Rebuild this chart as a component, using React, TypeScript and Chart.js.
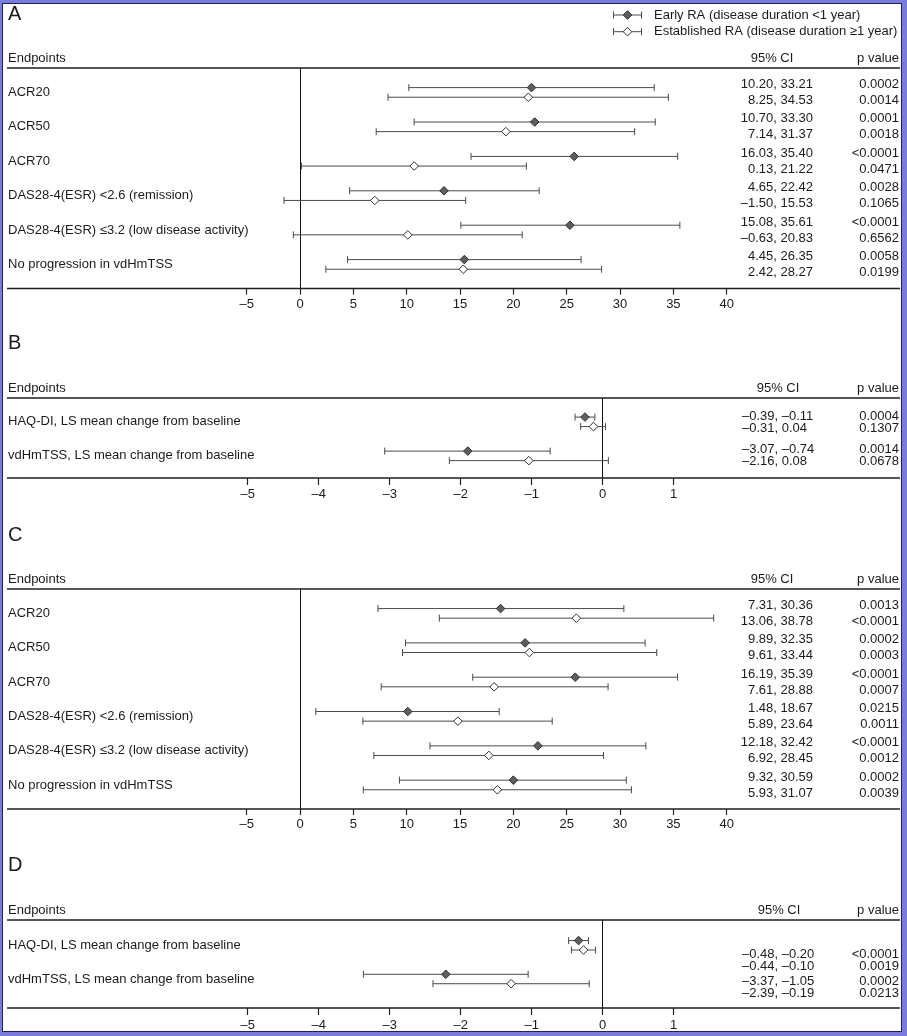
import React, { useEffect, useRef } from "react";
import { Chart, registerables } from "chart.js";

Chart.register(...registerables);

const FONT = '"Liberation Sans", Arial, Helvetica, sans-serif';
const INK = "#1b1b1b";
const WHISKER = "#4a4a4a";

// ---------------- data ----------------
const seriesNames = [
  "Early RA (disease duration <1 year)",
  "Established RA (disease duration \u22651 year)",
];

const responseEndpoints = [
  "ACR20",
  "ACR50",
  "ACR70",
  "DAS28-4(ESR) <2.6 (remission)",
  "DAS28-4(ESR) \u22643.2 (low disease activity)",
  "No progression in vdHmTSS",
];
const changeEndpoints = [
  "HAQ-DI, LS mean change from baseline",
  "vdHmTSS, LS mean change from baseline",
];

const responseTicks = [-5, 0, 5, 10, 15, 20, 25, 30, 35, 40];
const changeTicks = [-5, -4, -3, -2, -1, 0, 1];

// Panel A
const aEarlyEst = [21.7, 22.0, 25.7, 13.5, 25.3, 15.4];
const aEarlyLo = [10.2, 10.7, 16.03, 4.65, 15.08, 4.45];
const aEarlyHi = [33.21, 33.3, 35.4, 22.42, 35.61, 26.35];
const aEarlyP = ["0.0002", "0.0001", "<0.0001", "0.0028", "<0.0001", "0.0058"];
const aEstabEst = [21.4, 19.3, 10.7, 7.0, 10.1, 15.3];
const aEstabLo = [8.25, 7.14, 0.13, -1.5, -0.63, 2.42];
const aEstabHi = [34.53, 31.37, 21.22, 15.53, 20.83, 28.27];
const aEstabP = ["0.0014", "0.0018", "0.0471", "0.1065", "0.6562", "0.0199"];

// Panel B
const bEarlyEst = [-0.25, -1.9];
const bEarlyLo = [-0.39, -3.07];
const bEarlyHi = [-0.11, -0.74];
const bEarlyP = ["0.0004", "0.0014"];
const bEstabEst = [-0.13, -1.04];
const bEstabLo = [-0.31, -2.16];
const bEstabHi = [0.04, 0.08];
const bEstabP = ["0.1307", "0.0678"];

// Panel C
const cEarlyEst = [18.8, 21.1, 25.8, 10.1, 22.3, 20.0];
const cEarlyLo = [7.31, 9.89, 16.19, 1.48, 12.18, 9.32];
const cEarlyHi = [30.36, 32.35, 35.39, 18.67, 32.42, 30.59];
const cEarlyP = ["0.0013", "0.0002", "<0.0001", "0.0215", "<0.0001", "0.0002"];
const cEstabEst = [25.9, 21.5, 18.2, 14.8, 17.7, 18.5];
const cEstabLo = [13.06, 9.61, 7.61, 5.89, 6.92, 5.93];
const cEstabHi = [38.78, 33.44, 28.88, 23.64, 28.45, 31.07];
const cEstabP = ["<0.0001", "0.0003", "0.0007", "0.0011", "0.0012", "0.0039"];

// Panel D
const dEarlyEst = [-0.34, -2.21];
const dEarlyLo = [-0.48, -3.37];
const dEarlyHi = [-0.2, -1.05];
const dEarlyP = ["<0.0001", "0.0002"];
const dEstabEst = [-0.27, -1.29];
const dEstabLo = [-0.44, -2.39];
const dEstabHi = [-0.1, -0.19];
const dEstabP = ["0.0019", "0.0213"];

// ---------------- layout ----------------
type Series = { est: number[]; lo: number[]; hi: number[]; p: string[] };
type Panel = {
  letter: string;
  endpoints: string[];
  series: Series[];
  ticks: number[];
  xMin: number;
  xMax: number;
  yMin: number;
  yMax: number;
  top: number;
  height: number;
  left: number;
  right: number;
  topLine: number;
  bottomLine: number;
  axisH: number;
  tickLen: number;
  tickPad: number;
  letterY: number;
  ciAlign: CanvasTextAlign;
  ciX: number;
  ciHeadX: number;
  textGap: number;
  textShift: number[];
  legend: boolean;
};

const panels: Panel[] = [
  {
    letter: "A",
    endpoints: responseEndpoints,
    series: [
      { est: aEarlyEst, lo: aEarlyLo, hi: aEarlyHi, p: aEarlyP },
      { est: aEstabEst, lo: aEstabLo, hi: aEstabHi, p: aEstabP },
    ],
    ticks: responseTicks,
    xMin: -5,
    xMax: 40,
    yMin: -0.71,
    yMax: 5.7,
    top: 0,
    height: 330,
    left: 246.7,
    right: 726.7,
    topLine: 68,
    bottomLine: 288.5,
    axisH: 30,
    tickLen: 6,
    tickPad: 2,
    letterY: 14.5,
    ciAlign: "right",
    ciX: 813,
    ciHeadX: 772,
    textGap: 8,
    textShift: [0, 0, 0, 0, 0, 0],
    legend: true,
  },
  {
    letter: "B",
    endpoints: changeEndpoints,
    series: [
      { est: bEarlyEst, lo: bEarlyLo, hi: bEarlyHi, p: bEarlyP },
      { est: bEstabEst, lo: bEstabLo, hi: bEstabHi, p: bEstabP },
    ],
    ticks: changeTicks,
    xMin: -5,
    xMax: 1,
    yMin: -0.7,
    yMax: 1.65,
    top: 330,
    height: 190,
    left: 247.7,
    right: 673.7,
    topLine: 398,
    bottomLine: 478,
    axisH: 30,
    tickLen: 7,
    tickPad: 2,
    letterY: 343.5,
    ciAlign: "left",
    ciX: 742,
    ciHeadX: 778,
    textGap: 5.8,
    textShift: [0.5, -0.5],
    legend: false,
  },
  {
    letter: "C",
    endpoints: responseEndpoints,
    series: [
      { est: cEarlyEst, lo: cEarlyLo, hi: cEarlyHi, p: cEarlyP },
      { est: cEstabEst, lo: cEstabLo, hi: cEstabHi, p: cEstabP },
    ],
    ticks: responseTicks,
    xMin: -5,
    xMax: 40,
    yMin: -0.71,
    yMax: 5.7,
    top: 520,
    height: 330,
    left: 246.7,
    right: 726.7,
    topLine: 589,
    bottomLine: 809,
    axisH: 30,
    tickLen: 6,
    tickPad: 2,
    letterY: 535,
    ciAlign: "right",
    ciX: 813,
    ciHeadX: 772,
    textGap: 8,
    textShift: [0, 0, 0, 0, 0, 0],
    legend: false,
  },
  {
    letter: "D",
    endpoints: changeEndpoints,
    series: [
      { est: dEarlyEst, lo: dEarlyLo, hi: dEarlyHi, p: dEarlyP },
      { est: dEstabEst, lo: dEstabLo, hi: dEstabHi, p: dEstabP },
    ],
    ticks: changeTicks,
    xMin: -5,
    xMax: 1,
    yMin: -0.75,
    yMax: 1.86,
    top: 850,
    height: 186,
    left: 247.7,
    right: 673.7,
    topLine: 920,
    bottomLine: 1008,
    axisH: 26,
    tickLen: 7,
    tickPad: 3,
    letterY: 865,
    ciAlign: "left",
    ciX: 742,
    ciHeadX: 779,
    textGap: 5.8,
    textShift: [15, 8.5],
    legend: false,
  },
];

const PAIR_OFFSET = 0.14;

function fmtNum(v: number): string {
  const s = Math.abs(v).toFixed(2);
  return v < 0 ? "\u2013" + s : s;
}
function fmtTick(v: number): string {
  return v < 0 ? "\u2013" + Math.abs(v) : String(v);
}

function drawText(
  ctx: CanvasRenderingContext2D,
  s: string,
  x: number,
  y: number,
  align: CanvasTextAlign,
  size = 13
) {
  ctx.font = `${size}px ${FONT}`;
  ctx.textAlign = align;
  ctx.textBaseline = "middle";
  ctx.fillStyle = INK;
  ctx.fillText(s, x, y);
}

function drawDiamond(ctx: CanvasRenderingContext2D, x: number, y: number, r: number, fill: string) {
  ctx.beginPath();
  ctx.moveTo(x, y - r);
  ctx.lineTo(x + r, y);
  ctx.lineTo(x, y + r);
  ctx.lineTo(x - r, y);
  ctx.closePath();
  ctx.fillStyle = fill;
  ctx.fill();
  ctx.strokeStyle = "#2e2e2e";
  ctx.lineWidth = 1;
  ctx.stroke();
}

function buildConfig(p: Panel): any {
  const datasets: any[] = [];
  p.series.forEach((s, si) => {
    const dy = si === 0 ? -PAIR_OFFSET : PAIR_OFFSET;
    s.lo.forEach((lo, i) => {
      datasets.push({
        label: `${seriesNames[si]} CI ${i}`,
        data: [
          { x: lo, y: i + dy },
          { x: s.hi[i], y: i + dy },
        ],
        showLine: true,
        borderColor: WHISKER,
        borderWidth: 1,
        pointStyle: "line",
        pointRadius: 3.5,
        pointRotation: 90,
        pointBorderColor: WHISKER,
        pointBorderWidth: 1,
        order: 2,
      });
    });
    datasets.push({
      label: seriesNames[si],
      data: s.est.map((v, i) => ({ x: v, y: i + dy })),
      showLine: false,
      pointStyle: "rectRot",
      pointRadius: 4.3,
      pointBackgroundColor: si === 0 ? "#5e5e5e" : "#ffffff",
      pointBorderColor: "#2e2e2e",
      pointBorderWidth: 1,
      order: 1,
    });
  });

  const textPlugin = {
    id: "forestText" + p.letter,
    afterDraw(chart: any) {
      const ctx: CanvasRenderingContext2D = chart.ctx;
      const ca = chart.chartArea;
      const ys = chart.scales.y;
      const T = p.top;
      ctx.save();
      // full-width header and axis rules
      ctx.strokeStyle = "#1e1e1e";
      ctx.lineWidth = 1.6;
      [ca.top, ca.bottom].forEach((y: number) => {
        ctx.beginPath();
        ctx.moveTo(7, y);
        ctx.lineTo(900, y);
        ctx.stroke();
      });
      drawText(ctx, p.letter, 8, p.letterY - T, "left", 20);
      const hy = ca.top - 9.5;
      drawText(ctx, "Endpoints", 8, hy, "left");
      drawText(ctx, "95% CI", p.ciHeadX, hy, "center");
      drawText(ctx, "p value", 899, hy, "right");
      p.endpoints.forEach((lab, i) => {
        const yc = ys.getPixelForValue(i);
        drawText(ctx, lab, 8, yc, "left");
        const ty = yc + p.textShift[i];
        p.series.forEach((s, si) => {
          const y = ty + (si === 0 ? -p.textGap : p.textGap);
          drawText(ctx, `${fmtNum(s.lo[i])}, ${fmtNum(s.hi[i])}`, p.ciX, y, p.ciAlign);
          drawText(ctx, s.p[i], 899, y, "right");
        });
      });
      if (p.legend) {
        const rows = [15, 31.7];
        seriesNames.forEach((name, si) => {
          const y = rows[si] - T;
          ctx.strokeStyle = WHISKER;
          ctx.lineWidth = 1;
          ctx.beginPath();
          ctx.moveTo(613, y);
          ctx.lineTo(642, y);
          ctx.moveTo(613.5, y - 3.5);
          ctx.lineTo(613.5, y + 3.5);
          ctx.moveTo(641.5, y - 3.5);
          ctx.lineTo(641.5, y + 3.5);
          ctx.stroke();
          drawDiamond(ctx, 627.5, y, 4.3, si === 0 ? "#5e5e5e" : "#ffffff");
          drawText(ctx, name, 654, y, "left");
        });
      }
      ctx.restore();
    },
  };

  return {
    type: "scatter",
    data: { datasets },
    options: {
      animation: false,
      responsive: false,
      devicePixelRatio: 1,
      events: [],
      layout: {
        padding: {
          left: p.left,
          right: 907 - p.right,
          top: p.topLine - p.top,
          bottom: p.top + p.height - p.bottomLine - p.axisH,
        },
      },
      plugins: { legend: { display: false }, tooltip: { enabled: false } },
      scales: {
        x: {
          type: "linear",
          position: "bottom",
          min: p.xMin,
          max: p.xMax,
          afterBuildTicks: (scale: any) => {
            scale.ticks = p.ticks.map((v) => ({ value: v }));
          },
          afterFit: (scale: any) => {
            scale.height = p.axisH;
          },
          ticks: {
            callback: (v: any) => fmtTick(Number(v)),
            font: { family: FONT, size: 13 },
            color: INK,
            padding: p.tickPad,
            maxRotation: 0,
            autoSkip: false,
          },
          grid: {
            color: (c: any) => (c.tick && c.tick.value === 0 ? "#111111" : "rgba(0,0,0,0)"),
            lineWidth: 1,
            drawTicks: true,
            tickLength: p.tickLen,
            tickColor: "#222222",
            tickWidth: 1.2,
          },
          border: { display: false },
        },
        y: {
          type: "linear",
          min: p.yMin,
          max: p.yMax,
          reverse: true,
          display: false,
        },
      },
    },
    plugins: [textPlugin],
  };
}

function PanelChart({ panel }: { panel: Panel }) {
  const ref = useRef<HTMLCanvasElement | null>(null);
  useEffect(() => {
    if (!ref.current) return;
    const chart = new Chart(ref.current, buildConfig(panel));
    return () => chart.destroy();
  }, [panel]);
  return (
    <canvas
      ref={ref}
      width={907}
      height={panel.height}
      style={{ position: "absolute", left: 0, top: panel.top, width: 907, height: panel.height }}
    />
  );
}

export default function App() {
  return (
    <div
      style={{
        position: "absolute",
        left: 0,
        top: 0,
        width: 907,
        height: 1036,
        background: "#7b7bdb",
        overflow: "hidden",
      }}
    >
      <div
        style={{
          position: "absolute",
          left: 2,
          top: 3,
          width: 900,
          height: 1029,
          boxSizing: "border-box",
          border: "1px solid #22225a",
          background: "#ffffff",
        }}
      />
      {panels.map((p) => (
        <PanelChart key={p.letter} panel={p} />
      ))}
    </div>
  );
}
